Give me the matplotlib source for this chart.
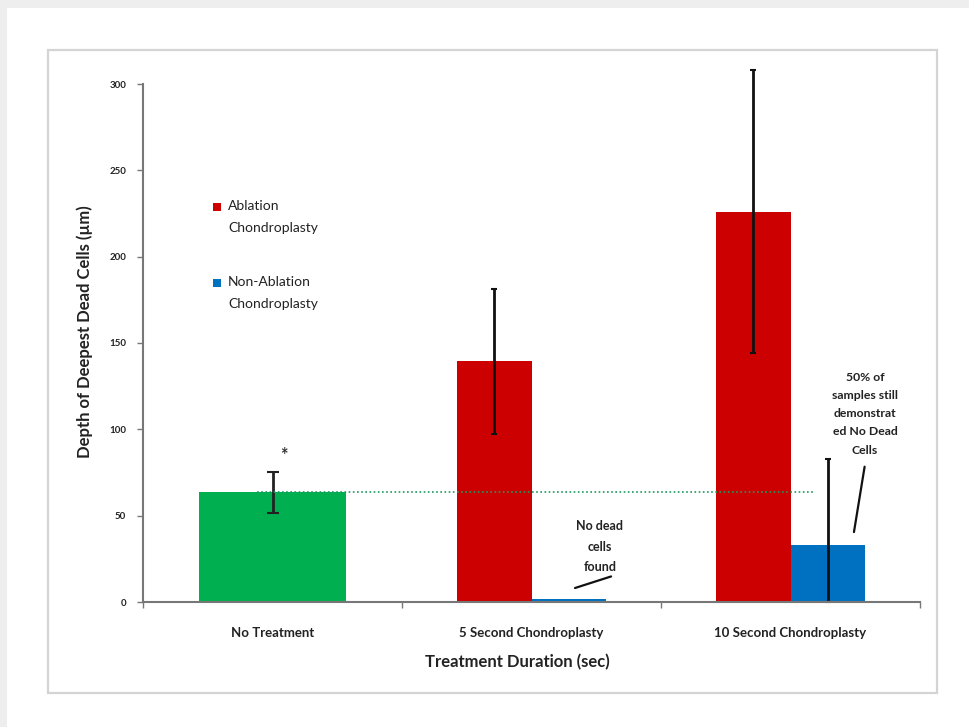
import matplotlib.pyplot as plt
from matplotlib.patches import Rectangle

W, H = 969, 727

categories = ["No Treatment", "5 Second Chondroplasty", "10 Second Chondroplasty"]
series_names = ["Ablation\nChondroplasty", "Non-Ablation\nChondroplasty"]
control_mean = 63.5
control_err = 12
ablation_mean = [139.5, 226]
ablation_err = [42, 82]
nonablation_mean = [1.5, 33]
nonablation_err = [0, 50]
control_line = 63.5

GREEN = "#00b050"
RED = "#cc0000"
BLUE = "#0070c0"

plt.rcParams['font.family'] = ['Lato', 'DejaVu Sans']
plt.rcParams['font.weight'] = 'bold'

fig = plt.figure(figsize=(W / 100, H / 100), dpi=100)
fig.patch.set_facecolor("#eeeeee")


def fx(px):
    return px / W


def fy(py):
    return 1 - py / H


# white panel and the chart border
fig.add_artist(Rectangle((fx(7), 0), 1 - fx(7), fy(8), transform=fig.transFigure,
                         facecolor="white", edgecolor="none", zorder=0))
fig.add_artist(Rectangle((fx(48), fy(693)), fx(937) - fx(48), fy(50) - fy(693),
                         transform=fig.transFigure, facecolor="white",
                         edgecolor="#d4d4d4", lw=1.6, zorder=0.5))

ax = fig.add_axes([fx(143), fy(602), fx(920) - fx(143), fy(84) - fy(602)])
ax.set_zorder(2)
ax.set_facecolor("none")
ax.set_xlim(0, 3)
ax.set_ylim(0, 300)

bw = 0.286
ax.bar(0.5, control_mean, width=0.57, color=GREEN, zorder=2)
eb = ax.errorbar(0.5, control_mean, yerr=control_err, fmt="none", ecolor="#222222",
                 elinewidth=2, capsize=4, capthick=1.5, zorder=3)

group_x = [1.5, 2.5]
abl_x = [g - bw / 2 for g in group_x]
non_x = [g + bw / 2 for g in group_x]
ax.bar(abl_x, ablation_mean, width=bw, color=RED, zorder=2)
ax.bar(non_x, nonablation_mean, width=bw, color=BLUE, zorder=2)
eb_abl = ax.errorbar(abl_x, ablation_mean, yerr=ablation_err, fmt="none",
                     ecolor="#111111", elinewidth=2, capsize=2, capthick=1.5,
                     zorder=3)
non_lo = [min(e, m) for m, e in zip(nonablation_mean, nonablation_err)]
eb_non = ax.errorbar(non_x[1:], nonablation_mean[1:],
                     yerr=[non_lo[1:], nonablation_err[1:]], fmt="none",
                     ecolor="#111111", elinewidth=2, capsize=2, capthick=1.5,
                     zorder=3)
# the 10 s ablation whisker runs past the top of the axis
for container in (eb, eb_abl, eb_non):
    for art in container.lines[1] + container.lines[2]:
        art.set_clip_on(False)

# untreated reference level
ax.plot([0.44, 2.595], [control_line, control_line], color="#1a9a60", lw=1.2,
        ls=(0, (1, 1.5)), zorder=4)
ax.text(0.545, 85, "*", ha="center", va="center", fontsize=13, color="#333333")

# axes styling
for s in ["top", "right"]:
    ax.spines[s].set_visible(False)
for s in ["left", "bottom"]:
    ax.spines[s].set_color("#777777")
    ax.spines[s].set_linewidth(1.5)
    ax.spines[s].set_zorder(5)
ax.set_yticks(range(0, 301, 50))
ax.tick_params(axis="y", labelsize=7, length=4, width=1, color="#777777", pad=8)
ax.set_xticks([0, 1, 2, 3])
ax.set_xticklabels([])
ax.set_xticks([0.5, 1.5, 2.5], minor=True)
ax.set_xticklabels(categories, minor=True, fontsize=9.5, color="#222222")
ax.tick_params(axis="x", which="major", length=4, width=1, color="#777777")
ax.tick_params(axis="x", which="minor", length=0, pad=18)
for lbl in ax.get_yticklabels():
    lbl.set_color("#222222")

ax.set_ylabel("Depth of Deepest Dead Cells (µm)", fontsize=12,
              color="#222222", fontweight="bold")
ax.yaxis.set_label_coords(-0.064, 0.521)
ax.set_xlabel("Treatment Duration (sec)", fontsize=12,
              color="#222222", fontweight="bold")
ax.xaxis.set_label_coords(0.482, -0.101)

# key: square sits beside the first line of each two-line label
for name, color, top in zip(series_names, [RED, BLUE], [207, 283]):
    fig.add_artist(Rectangle((fx(213), fy(top + 4)), fx(8), 8 / H,
                             transform=fig.transFigure, facecolor=color,
                             edgecolor="none", zorder=3))
    fig.text(fx(228), fy(top - 7), name, ha="left", va="top",
             fontsize=10, fontweight="normal", color="#222222",
             linespacing=1.95, zorder=3)

ax.annotate("No dead\ncells\nfound", xy=(1.668, 8.1), xytext=(1.764, 32),
            ha="center", va="center", fontsize=9, color="#222222",
            linespacing=1.85,
            arrowprops=dict(arrowstyle="-", color="#111111", lw=1.6,
                            shrinkA=1, shrinkB=0,
                            relpos=(0.95, 0)))
ax.annotate("50% of\nsamples still\ndemonstrat\ned No Dead\nCells",
            xy=(2.745, 40.5), xytext=(2.788, 109), ha="center", va="center",
            fontsize=8.8, color="#222222", linespacing=1.8,
            arrowprops=dict(arrowstyle="-", color="#111111", lw=1.6,
                            shrinkA=6, shrinkB=0, relpos=(0.52, 0)))

fig.savefig("out.png", dpi=100, facecolor=fig.get_facecolor())
